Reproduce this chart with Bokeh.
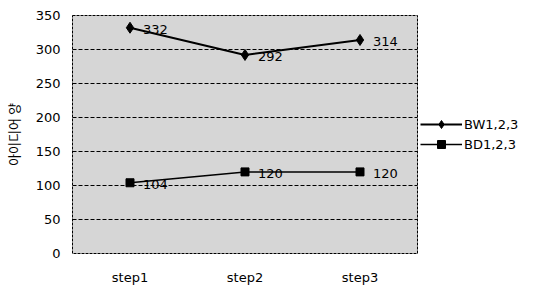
from bokeh.plotting import figure
from bokeh.models import FactorRange, Legend, LegendItem, Range1d, ColumnDataSource, FixedTicker
from bokeh.embed import file_html
from bokeh.resources import INLINE
from bokeh.core.properties import value

steps = ["step1", "step2", "step3"]
bw = [332, 292, 314]
bd = [104, 120, 120]
bw_name = "BW1,2,3"
bd_name = "BD1,2,3"
y_label = "아이디어 양"
y_ticks = [0, 50, 100, 150, 200, 250, 300, 350]

FONT = "DejaVu Sans"

p = figure(x_range=FactorRange(factors=steps, range_padding=0), y_range=Range1d(0, 350),
           frame_width=345, frame_height=238, output_backend="svg", toolbar_location=None,
           min_border_left=70, min_border_right=125, min_border_top=15, min_border_bottom=34)
p.background_fill_color = "#d6d6d6"
p.border_fill_color = "white"
p.outline_line_color = "black"
p.outline_line_dash = "3 1"
p.outline_line_width = 1

p.xgrid.grid_line_color = None
p.ygrid.grid_line_color = "black"
p.ygrid.grid_line_dash = "4 2"
p.ygrid.grid_line_width = 1
p.yaxis.ticker = FixedTicker(ticks=y_ticks)

for ax in (p.xaxis[0], p.yaxis[0]):
    ax.axis_line_color = None
    ax.major_tick_line_color = None
    ax.minor_tick_line_color = None
    ax.major_tick_out = 0
    ax.major_tick_in = 0
    ax.minor_tick_out = 0
    ax.minor_tick_in = 0
    ax.major_label_text_font = FONT
    ax.major_label_text_font_size = "13px"
    ax.major_label_text_color = "black"
p.xaxis.major_label_standoff = 16
p.yaxis.major_label_standoff = 12
p.yaxis.axis_label = y_label
p.yaxis.axis_label_text_font = "Noto Sans CJK KR"
p.yaxis.axis_label_text_font_style = "normal"
p.yaxis.axis_label_text_font_size = "13px"
p.yaxis.axis_label_text_color = "black"
p.yaxis.axis_label_standoff = 10

src_bw = ColumnDataSource(dict(x=steps, y=bw, t=[str(v) for v in bw]))
src_bd = ColumnDataSource(dict(x=steps, y=bd, t=[str(v) for v in bd]))

l1 = p.line("x", "y", source=src_bw, line_color="black", line_width=2)
m1 = p.scatter("x", "y", source=src_bw, marker="diamond", size=11, fill_color="black", line_color="black")
l2 = p.line("x", "y", source=src_bd, line_color="black", line_width=1.5)
m2 = p.scatter("x", "y", source=src_bd, marker="square", size=8, fill_color="black", line_color="black")

for src in (src_bw, src_bd):
    p.text("x", "y", text="t", source=src, x_offset=13, y_offset=2,
           text_font=value(FONT), text_font_size="13px",
           text_baseline="middle", text_align="left", text_color="black")

legend = Legend(items=[LegendItem(label=bw_name, renderers=[l1, m1]),
                       LegendItem(label=bd_name, renderers=[l2, m2])],
                location="center_left", margin=3, padding=10, spacing=0,
                glyph_width=42, glyph_height=20, label_height=20, label_standoff=2,
                label_text_font=FONT, label_text_font_size="13px", label_text_color="black",
                border_line_color=None, background_fill_alpha=0)
p.add_layout(legend, "right")

open("out.html", "w").write(file_html(p, INLINE))
